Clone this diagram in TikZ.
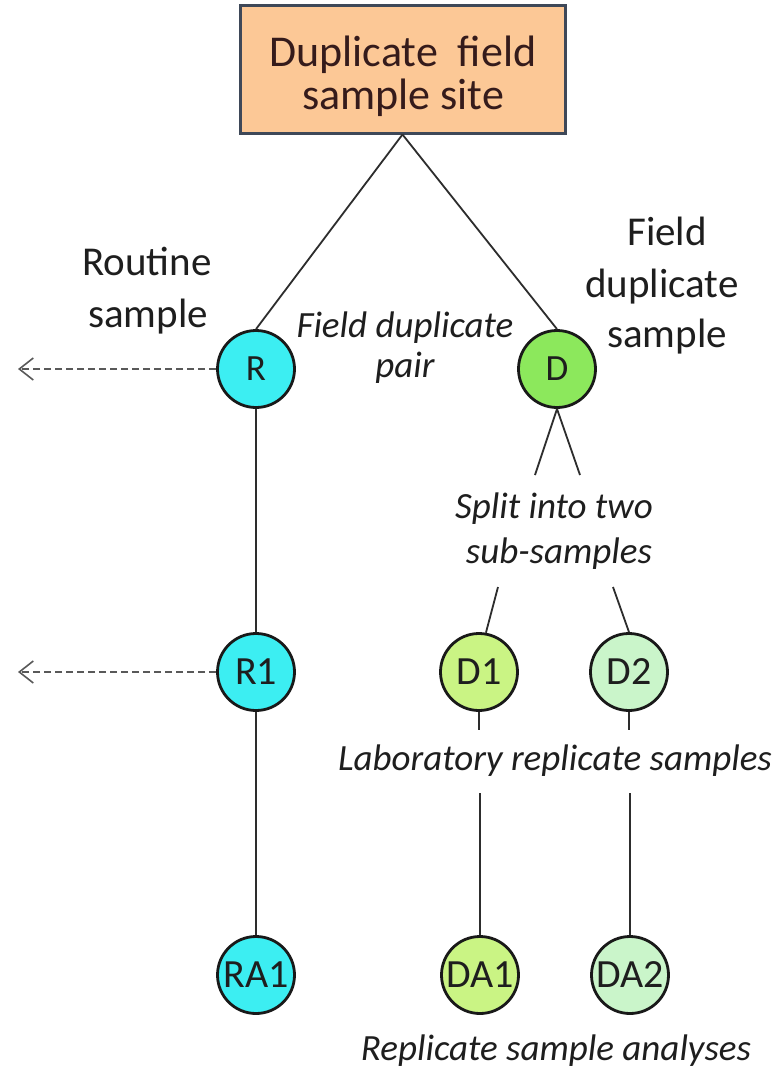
\documentclass[tikz,border=0pt]{standalone}
\usepackage{fontspec}
\setmainfont{Carlito}
\usetikzlibrary{arrows.meta}
\definecolor{boxfill}{RGB}{252,200,150}
\definecolor{boxline}{RGB}{62,72,88}
\definecolor{rcol}{RGB}{60,238,242}
\definecolor{dcol}{RGB}{140,232,92}
\definecolor{donecol}{RGB}{202,244,132}
\definecolor{dtwocol}{RGB}{202,245,202}
\definecolor{linecol}{RGB}{45,45,45}
\definecolor{txtcol}{RGB}{30,30,30}
\begin{document}
\begin{tikzpicture}[x=1pt,y=-1pt,
  sitebox/.style={draw=boxline, fill=boxfill, line width=3pt, minimum width=325pt, minimum height=128pt, inner sep=0pt},
  boxtext/.style={anchor=base, font=\fontsize{44}{44}\selectfont, text=txtcol!90!red, inner sep=0pt},
  samp/.style={circle, draw=black!90, line width=2.8pt, minimum size=77pt, inner sep=0pt, text=txtcol, font=\fontsize{40}{40}\selectfont},
  bigsamp/.style={samp, font=\fontsize{37}{37}\selectfont},
  lbl/.style={anchor=base, font=\fontsize{41}{41}\selectfont, text=txtcol, inner sep=0pt},
  ital/.style={anchor=base, font=\fontsize{37}{37}\selectfont\itshape, text=txtcol, inner sep=0pt},
  conn/.style={draw=linecol, line width=1.8pt},
  outarrow/.style={draw=black!65, line width=1.6pt, dash pattern=on 7pt off 4pt, -{Straight Barb[length=14pt, width=22pt, line width=1.6pt]}}
]
\useasboundingbox (0,0) rectangle (779,1071);
\fill[white] (0,0) rectangle (779,1071);

% top box
\node[sitebox] (box) at (402.5,69) {};
\node[boxtext] (boxa) at (403,66) {Duplicate\ \ field};
\node[boxtext] (boxb) at (403,109) {sample site};

% sample circles
\node[bigsamp, fill=rcol] (R) at (256,369) {R};
\node[bigsamp, fill=dcol] (D) at (557,369) {D};
\node[samp, fill=rcol] (R1) at (256,672) {R1};
\node[samp, fill=donecol] (D1) at (479,672) {D1};
\node[samp, fill=dtwocol] (D2) at (629,672) {D2};
\node[samp, fill=rcol] (RA1) at (256,975) {RA1};
\node[samp, fill=donecol] (DA1) at (480,975) {DA1};
\node[samp, fill=dtwocol] (DA2) at (630,975) {DA2};

% labels
\node[lbl] (rt1) at (147,275) {Routine};
\node[lbl] (rt2) at (148,327) {sample};
\node[lbl] (fd1) at (667,245) {Field};
\node[lbl] (fd2) at (662,297) {duplicate};
\node[lbl] (fd3) at (667,347) {sample};
\node[ital] (fp1) at (405,337) {Field duplicate};
\node[ital] (fp2) at (405,377) {pair};
\node[ital] (sp1) at (554,518) {Split into two};
\node[ital] (sp2) at (559,563) {sub-samples};
\node[ital] (lab) at (555,770) {Laboratory replicate samples};
\node[ital] (ana) at (556,1060) {Replicate sample analyses};

% free ends
\coordinate (s1) at (535,475);
\coordinate (s2) at (580,475);
\coordinate (t1) at (498,587);
\coordinate (t2) at (613,587);
\coordinate (u1) at (479,730);
\coordinate (u2) at (629,730);
\coordinate (v1) at (480,793);
\coordinate (v2) at (630,793);
\coordinate (rl) at (18,369);
\coordinate (r1l) at (18,672);

% connectors
\draw[conn] (box.south) -- (R.north);
\draw[conn] (box.south) -- (D.north);
\draw[conn] (R.south) -- (R1.north);
\draw[conn] (R1.south) -- (RA1.north);
\draw[conn] (D.south) -- (s1);
\draw[conn] (D.south) -- (s2);
\draw[conn] (t1) -- (D1.80);
\draw[conn] (t2) -- (D2.north);
\draw[conn] (D1.south) -- (u1);
\draw[conn] (D2.south) -- (u2);
\draw[conn] (v1) -- (DA1.north);
\draw[conn] (v2) -- (DA2.north);
\draw[outarrow] (R.west) -- (rl);
\draw[outarrow] (R1.west) -- (r1l);
\end{tikzpicture}
\end{document}
